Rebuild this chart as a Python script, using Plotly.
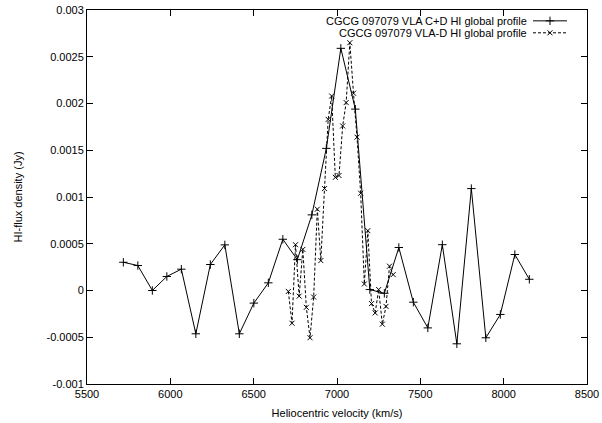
import plotly.graph_objects as go

# Solid series: VLA C+D
cd_vel = [5718, 5805, 5892, 5979, 6066, 6153, 6240, 6327, 6414, 6501, 6588, 6675, 6762,
          6849, 6936, 7023, 7110, 7197, 7284, 7371, 7458, 7545, 7632, 7719, 7806, 7893,
          7980, 8067, 8154]
cd_flux = [0.000302, 0.000267, 0.0, 0.00015, 0.000228, -0.000463, 0.000278, 0.000488,
           -0.000463, -0.000135, 0.000082, 0.000548, 0.00033, 0.000809, 0.00152, 0.00259,
           0.00194, 0.00001, -0.00003, 0.00046, -0.000125, -0.0004, 0.00049, -0.00057,
           0.00109, -0.000506, -0.000256, 0.000385, 0.00012]

# Dashed series: VLA-D
d_vel = [6708, 6730, 6751, 6773, 6795, 6816, 6838, 6860, 6882, 6903, 6925, 6947, 6968,
         6990, 7012, 7034, 7055, 7077, 7099, 7120, 7142, 7164, 7185, 7207, 7229, 7250,
         7272, 7294, 7315, 7337]
d_flux = [-0.00001, -0.00035, 0.00049, -0.00006, 0.00044, -0.00018, -0.000505, -0.00007,
          0.00087, 0.00032, 0.00109, 0.00183, 0.00208, 0.00121, 0.00123, 0.00176, 0.00201,
          0.00265, 0.00211, 0.00164, 0.00104, 0.00007, 0.00064, -0.00014, -0.00024, 0.00001,
          -0.00036, -0.00017, 0.00026, 0.00017]

x_ticks = [5500, 6000, 6500, 7000, 7500, 8000, 8500]
y_ticks = [-0.001, -0.0005, 0, 0.0005, 0.001, 0.0015, 0.002, 0.0025, 0.003]
y_tick_text = ["-0.001", "-0.0005", "0", "0.0005", "0.001", "0.0015", "0.002", "0.0025", "0.003"]
legend_names = ["CGCG 097079 VLA C+D HI global profile", "CGCG 097079 VLA-D HI global profile"]

FONT = "Liberation Sans, Arial, Helvetica, sans-serif"
DASH = "3px,2px"

fig = go.Figure()
fig.add_trace(go.Scatter(x=cd_vel, y=cd_flux, mode="lines+markers",
                         line=dict(color="black", width=1),
                         marker=dict(symbol="cross-thin", size=6, color="black",
                                     line=dict(color="black", width=1)),
                         showlegend=False, cliponaxis=False))
fig.add_trace(go.Scatter(x=d_vel, y=d_flux, mode="lines+markers",
                         line=dict(color="black", width=1, dash=DASH),
                         marker=dict(symbol="x-thin", size=5, color="black",
                                     line=dict(color="black", width=1)),
                         showlegend=False, cliponaxis=False))

# legend samples on an overlay axis (0..1 range)
row_y = [0.971, 0.939]
fig.add_trace(go.Scatter(x=[0.892, 0.96], y=[row_y[0]] * 2, mode="lines",
                         line=dict(color="black", width=1), xaxis="x2", yaxis="y2",
                         showlegend=False, hoverinfo="skip", cliponaxis=False))
fig.add_trace(go.Scatter(x=[0.926], y=[row_y[0]], mode="markers",
                         marker=dict(symbol="cross-thin", size=6, line=dict(color="black", width=1)),
                         xaxis="x2", yaxis="y2", showlegend=False, hoverinfo="skip", cliponaxis=False))
fig.add_trace(go.Scatter(x=[0.892, 0.96], y=[row_y[1]] * 2, mode="lines",
                         line=dict(color="black", width=1, dash=DASH), xaxis="x2", yaxis="y2",
                         showlegend=False, hoverinfo="skip", cliponaxis=False))
fig.add_trace(go.Scatter(x=[0.926], y=[row_y[1]], mode="markers",
                         marker=dict(symbol="x-thin", size=5, line=dict(color="black", width=1)),
                         xaxis="x2", yaxis="y2", showlegend=False, hoverinfo="skip", cliponaxis=False))

for name, yy in zip(legend_names, row_y):
    fig.add_annotation(text=name, xref="paper", yref="paper", x=0.884, y=yy,
                       xanchor="right", yanchor="middle", showarrow=False,
                       font=dict(family=FONT, size=11, color="black"))

axis_common = dict(showline=True, linecolor="black", linewidth=1, mirror="ticks",
                   ticks="inside", ticklen=6, tickcolor="black", tickwidth=1,
                   showgrid=False, zeroline=False, automargin=False,
                   tickfont=dict(family=FONT, size=11, color="black"))

fig.update_layout(
    width=602, height=423,
    margin=dict(l=87, r=15, t=10, b=39, autoexpand=False),
    paper_bgcolor="white", plot_bgcolor="white",
    font=dict(family=FONT, size=11, color="black"),
    xaxis=dict(range=[5500, 8500], tickvals=x_ticks, ticktext=[str(v) for v in x_ticks],
               title=dict(text="Heliocentric velocity (km/s)", standoff=10,
                          font=dict(family=FONT, size=11)), **axis_common),
    yaxis=dict(range=[-0.001, 0.003], tickvals=y_ticks, ticktext=y_tick_text,
               title=dict(text="HI-flux density (Jy)", standoff=21,
                          font=dict(family=FONT, size=11)), **axis_common),
    xaxis2=dict(overlaying="x", range=[0, 1], visible=False, domain=[0, 1]),
    yaxis2=dict(overlaying="y", range=[0, 1], visible=False),
    showlegend=False,
)

fig.write_html("out.html", config={"displayModeBar": False},
               post_script="document.body.style.margin='0';")
